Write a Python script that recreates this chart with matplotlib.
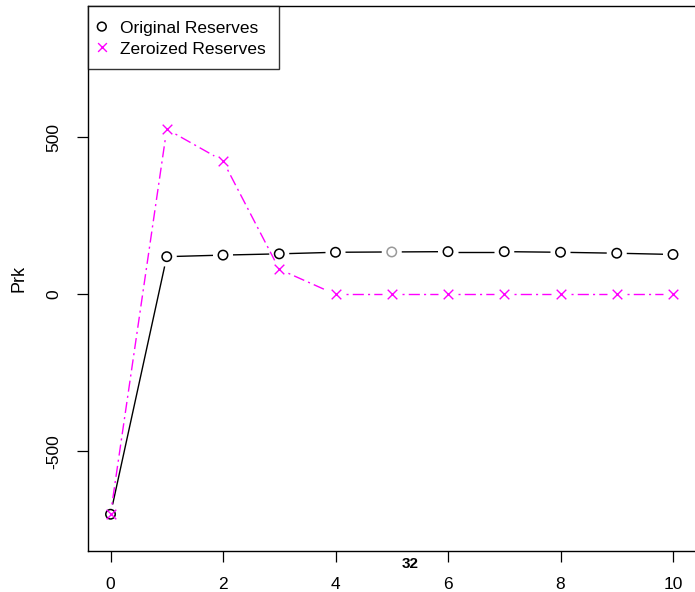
import matplotlib
matplotlib.use('Agg')
import matplotlib.pyplot as plt
import numpy as np

plt.rcParams['font.family'] = ['Liberation Sans', 'DejaVu Sans']
plt.rcParams['lines.scale_dashes'] = False

# data
periods = [0, 1, 2, 3, 4, 5, 6, 7, 8, 9, 10]
original = [-700, 120, 125, 129, 134, 135, 136, 136, 134, 131, 127]
zeroized = [-700, 526, 425, 80, 0, 0, 0, 0, 0, 0, 0]
original_marker_colors = ['black'] * 5 + ['#999999'] + ['black'] * 5
xticks = [0, 2, 4, 6, 8, 10]
yticks = [-500, 0, 500]
note_text = "32"
note_x = 5.32

W, H = 695, 592
fig = plt.figure(figsize=(W / 100, H / 100), dpi=100)
ax = fig.add_axes([88 / W, (H - 551) / H, (695.5 - 88) / W, (551 - 6) / H])
ax.set_xlim(-0.4, 10.4)
ax.set_ylim(-817, 918)


def gapped_segments(xs, ys, gap_px, **kw):
    # R type="b": lines broken around each point
    pts = ax.transData.transform(np.column_stack([xs, ys]))
    inv = ax.transData.inverted()
    for p, q in zip(pts[:-1], pts[1:]):
        d = q - p
        L = np.hypot(*d)
        if L <= 2 * gap_px:
            continue
        u = d / L
        a = inv.transform(p + u * gap_px)
        b = inv.transform(q - u * gap_px)
        ax.plot([a[0], b[0]], [a[1], b[1]], **kw)


fig.canvas.draw()
gapped_segments(periods, original, 10, color='black', lw=1.0, solid_capstyle='butt')
gapped_segments(periods, zeroized, 10, color='#ff00ff', lw=1.0,
                dashes=(1.5, 3, 8, 3), dash_capstyle='butt')

ax.scatter(periods, original, s=46, marker='o', facecolors='none',
           edgecolors=original_marker_colors, linewidths=1.1, zorder=3)
ax.scatter(periods, zeroized, s=48, marker='x', color='#ff00ff',
           linewidths=1.0, zorder=3)

ax.set_xticks(xticks)
ax.set_yticks(yticks)
ax.set_yticklabels([str(v) for v in yticks], rotation=90, va='center')
ax.tick_params(axis='both', direction='out', length=8, width=0.9,
               labelsize=12.5, pad=11)
for s in ax.spines.values():
    s.set_linewidth(1.0)
ax.spines['right'].set_visible(False)
ax.set_ylabel('Prk', fontsize=13, labelpad=14)

ax.text(note_x, -0.011, note_text, transform=ax.get_xaxis_transform(),
        ha='center', va='top', fontsize=11, fontweight='bold')

# legend
h1 = ax.scatter([], [], s=40, marker='o', facecolors='none', edgecolors='black', linewidths=1.1)
h2 = ax.scatter([], [], s=40, marker='x', color='#ff00ff', linewidths=1.0)
leg = ax.legend([h1, h2], ['Original Reserves', 'Zeroized Reserves'],
                loc='upper left', bbox_to_anchor=(0, 1.0), fontsize=12.5,
                frameon=True, fancybox=False, edgecolor='black',
                borderaxespad=0, handletextpad=1.0, borderpad=0.72,
                labelspacing=0.15, handlelength=0.15, handleheight=1.2)
leg.get_frame().set_linewidth(1.0)

fig.savefig('out.png', dpi=100)
